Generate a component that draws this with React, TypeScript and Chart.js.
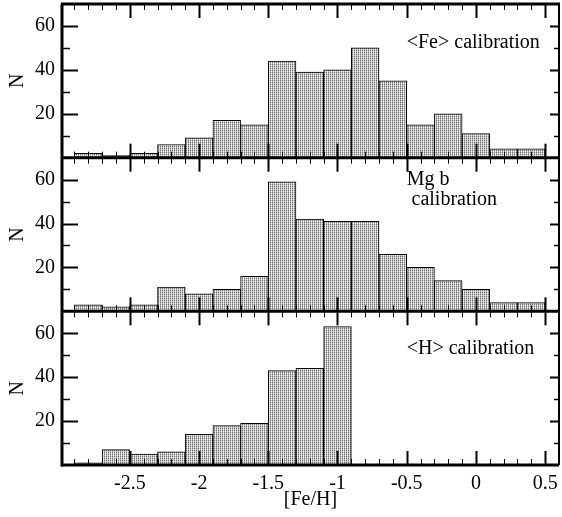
import { useEffect, useRef } from 'react';
import { Chart, registerables } from 'chart.js';

Chart.register(...registerables);

// Histogram bins of width 0.2 dex, given by their centres in [Fe/H]
const binCenters = [-2.8, -2.6, -2.4, -2.2, -2.0, -1.8, -1.6, -1.4, -1.2, -1.0, -0.8, -0.6, -0.4, -0.2, 0.0, 0.2, 0.4];

// Counts per bin for each calibration
const feCounts = [2, 1, 2, 6, 9, 17, 15, 44, 39, 40, 50, 35, 15, 20, 11, 4, 4];
const mgbCounts = [3, 2, 3, 11, 8, 10, 16, 59, 42, 41, 41, 26, 20, 14, 10, 4, 4];
const hCounts = [1, 7, 5, 6, 14, 18, 19, 43, 44, 63, null, null, null, null, null, null, null];

const panelLabels = ['<Fe> calibration', 'Mg b', 'calibration', '<H> calibration'];

const X_MIN = -2.99;
const X_MAX = 0.6;
const Y_MAX = 70;

const FONT_FAMILY = "'Liberation Serif', 'Times New Roman', serif";
const font = { family: FONT_FAMILY, size: 20 };

function makeStipple(): CanvasPattern | string {
  const c = document.createElement('canvas');
  c.width = 2;
  c.height = 2;
  const g = c.getContext('2d');
  if (!g) return '#c8c8c8';
  g.fillStyle = '#6e6e6e';
  g.fillRect(0, 0, 1, 1);
  g.fillStyle = '#d6d6d6';
  g.fillRect(1, 0, 1, 1);
  g.fillStyle = '#b0b0b0';
  g.fillRect(0, 1, 1, 1);
  g.fillStyle = '#f2f2f2';
  g.fillRect(1, 1, 1, 1);
  const p = g.createPattern(c, 'repeat');
  return p || '#c8c8c8';
}

const toPoints = (vals: (number | null)[]) =>
  binCenters.map((x, i) => ({ x, y: vals[i] }));

// Frame, inward tick marks and panel captions
const framePlugin = {
  id: 'panelFrame',
  afterDatasetsDraw(chart: any) {
    const { ctx, chartArea } = chart;
    const xs = chart.scales.x;
    const panels = [chart.scales.yFe, chart.scales.yMg, chart.scales.yH];
    ctx.save();
    ctx.strokeStyle = '#000';
    ctx.lineCap = 'butt';

    const line = (x1: number, y1: number, x2: number, y2: number, w: number) => {
      ctx.lineWidth = w;
      ctx.beginPath();
      ctx.moveTo(x1, y1);
      ctx.lineTo(x2, y2);
      ctx.stroke();
    };

    for (const p of panels) {
      const top = p.top;
      const bottom = p.bottom;
      for (let k = -29; k <= 5; k++) {
        const v = k / 10;
        const major = k % 5 === 0;
        const px = Math.round(xs.getPixelForValue(v)) + 0.5;
        const len = major ? 14 : 6;
        const w = major ? 2 : 1;
        line(px, bottom, px, bottom - len, w);
        line(px, top, px, top + len, w);
      }
      for (let v = 10; v < Y_MAX; v += 10) {
        const major = v % 20 === 0;
        const py = Math.round(p.getPixelForValue(v)) + 0.5;
        line(chartArea.left, py, chartArea.left + (major ? 16 : 8), py, major ? 2 : 1.5);
        line(chartArea.right, py, chartArea.right - (major ? 9 : 5), py, major ? 2 : 1.5);
      }
      line(chartArea.left - 1, bottom, chartArea.right, bottom, 3);
    }
    line(chartArea.left, chartArea.top, chartArea.left, chartArea.bottom + 1.5, 3);
    line(chartArea.left - 1, chartArea.top, chartArea.right + 1, chartArea.top, 3);
    line(chartArea.right, chartArea.top, chartArea.right, chartArea.bottom, 2);

    // captions
    ctx.fillStyle = '#000';
    ctx.font = `20px ${FONT_FAMILY}`;
    ctx.textAlign = 'left';
    ctx.textBaseline = 'middle';
    ctx.fillText(panelLabels[0], xs.getPixelForValue(-0.5), panels[0].getPixelForValue(52.5));
    ctx.fillText(panelLabels[1], xs.getPixelForValue(-0.5), panels[1].getPixelForValue(60));
    ctx.fillText(panelLabels[2], xs.getPixelForValue(-0.465), panels[1].getPixelForValue(51));
    ctx.fillText(panelLabels[3], xs.getPixelForValue(-0.5), panels[2].getPixelForValue(53));
    ctx.restore();
  },
};

function yAxis(weight: number) {
  return {
    type: 'linear' as const,
    position: 'left' as const,
    stack: 'panels',
    stackWeight: 1,
    weight,
    min: 0,
    max: Y_MAX,
    offset: false,
    border: { display: false },
    grid: { display: false, drawTicks: false },
    ticks: {
      stepSize: 20,
      includeBounds: false,
      padding: 7,
      color: '#000',
      font,
      callback: (v: any) => (Number(v) === 0 ? null : String(v)),
    },
    title: {
      display: true,
      text: 'N',
      color: '#000',
      font,
      padding: { top: 6, bottom: 0 },
    },
    afterFit: (s: any) => {
      s.width = 62;
      s.paddingTop = 0;
      s.paddingBottom = 0;
    },
  };
}

export default function App() {
  const canvasRef = useRef<HTMLCanvasElement | null>(null);

  useEffect(() => {
    document.body.style.margin = '0';
    const canvas = canvasRef.current;
    if (!canvas) return;
    const fill = makeStipple();
    const barStyle = {
      backgroundColor: fill,
      borderColor: '#000',
      borderWidth: 1,
      grouped: false,
      barPercentage: 1,
      categoryPercentage: 1,
    };
    const chart = new Chart(canvas, {
      type: 'bar',
      data: {
        datasets: [
          { label: '<Fe>', data: toPoints(feCounts), yAxisID: 'yFe', ...barStyle },
          { label: 'Mg b', data: toPoints(mgbCounts), yAxisID: 'yMg', ...barStyle },
          { label: '<H>', data: toPoints(hCounts), yAxisID: 'yH', ...barStyle },
        ] as any,
      },
      options: {
        animation: false,
        responsive: false,
        devicePixelRatio: 1,
        layout: { padding: { top: 4, right: 3, left: 0, bottom: 0 } },
        plugins: { legend: { display: false }, tooltip: { enabled: false } },
        scales: {
          x: {
            type: 'linear',
            position: 'bottom',
            min: X_MIN,
            max: X_MAX,
            offset: false,
            border: { display: false },
            grid: { display: false, drawTicks: false, offset: false },
            ticks: {
              stepSize: 0.5,
              includeBounds: false,
              autoSkip: false,
              maxRotation: 0,
              padding: 7,
              color: '#000',
              font,
              callback: (v: any) => {
                const n = Math.round(Number(v) * 10) / 10;
                return n === 0 ? '0' : String(n);
              },
            },
            title: {
              display: true,
              text: '[Fe/H]',
              color: '#000',
              font,
              padding: { top: 0, bottom: 5 },
            },
            afterFit: (s: any) => {
              s.height = 52;
              s.paddingLeft = 0;
              s.paddingRight = 0;
            },
          },
          yFe: yAxis(3),
          yMg: yAxis(2),
          yH: yAxis(1),
        } as any,
      },
      plugins: [framePlugin],
    });
    return () => chart.destroy();
  }, []);

  return (
    <div style={{ width: 562, height: 517, overflow: 'hidden' }}>
      <canvas ref={canvasRef} width={562} height={517} style={{ display: 'block' }} />
    </div>
  );
}
